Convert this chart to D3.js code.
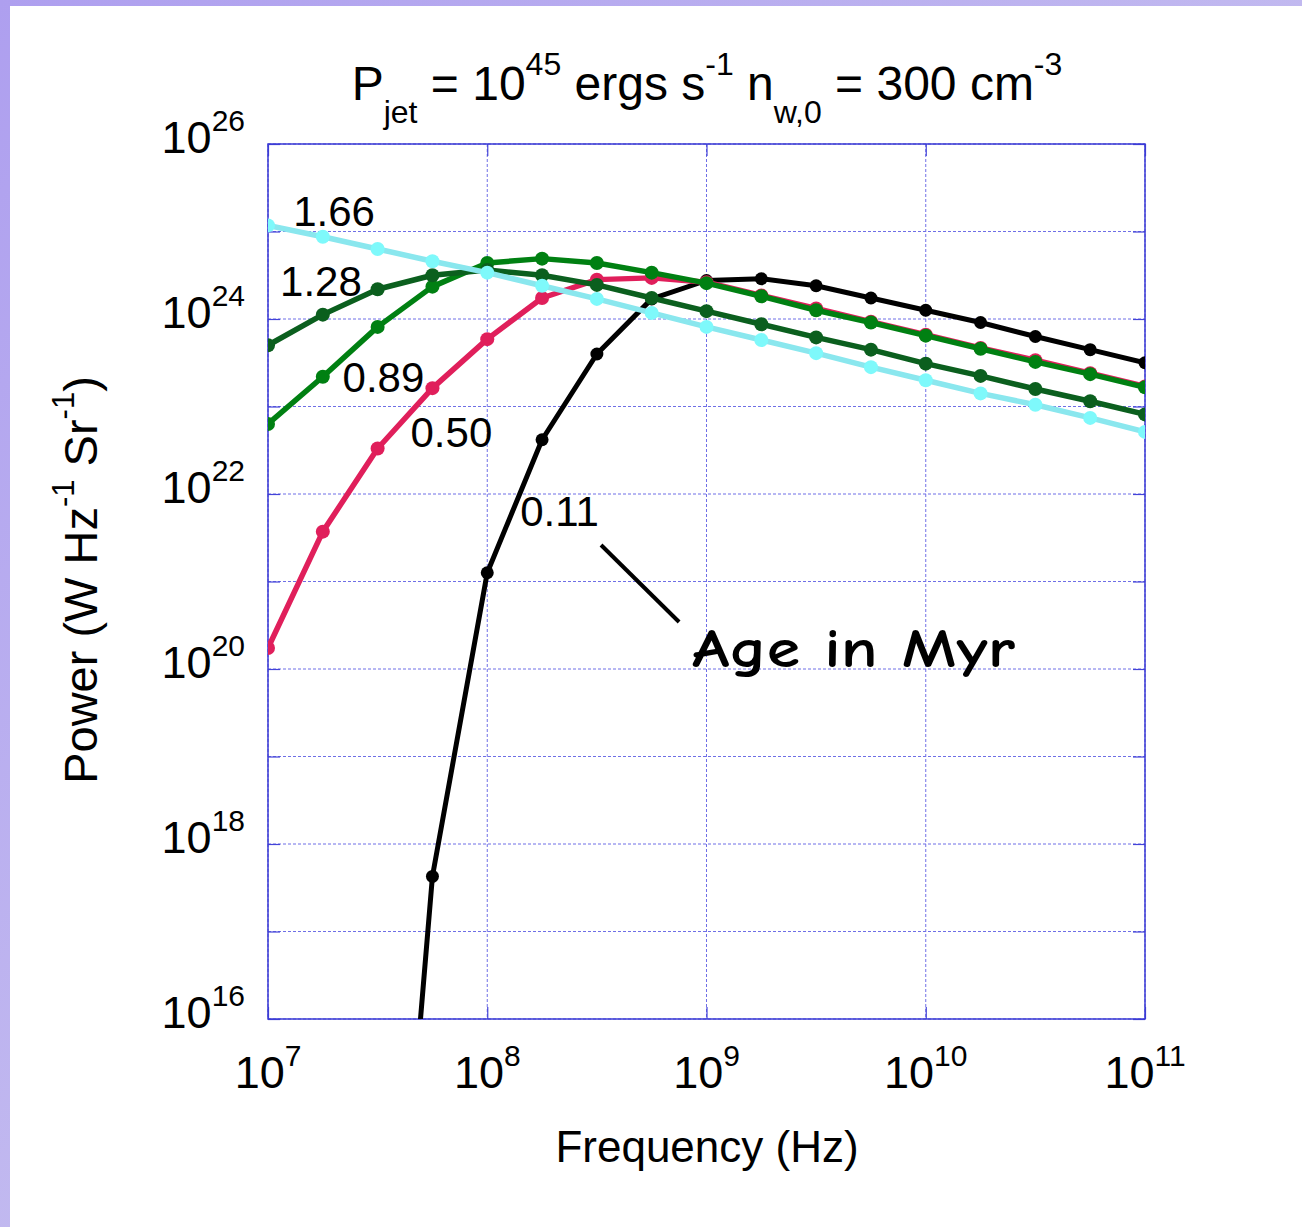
<!DOCTYPE html>
<html lang="en">
<head>
<meta charset="UTF-8">
<title>Power vs Frequency</title>
<script src="https://d3js.org/d3.v7.min.js"></script>
<style>
    html, body { margin: 0; padding: 0; background: #fff; }
    svg { display: block; font-family: "Liberation Sans", Arial, sans-serif; }
</style>
</head>
<body>
<div id="chart"></div>
<script>
// frequency in log10(Hz), quarter-decade steps
const freqLog = [7.00, 7.25, 7.50, 7.75, 8.00, 8.25, 8.50, 8.75, 9.00, 9.25, 9.50, 9.75, 10.00, 10.25, 10.50, 10.75, 11.00];

// power in log10(W Hz^-1 Sr^-1)
const age011 = [null, null, 10.15, 17.63, 21.10, 22.62, 23.60, 24.23, 24.44, 24.46, 24.38, 24.24, 24.10, 23.96, 23.80, 23.65, 23.50];
const age050 = [20.24, 21.57, 22.52, 23.21, 23.77, 24.24, 24.45, 24.47, 24.42, 24.27, 24.12, 23.97, 23.82, 23.67, 23.53, 23.38, 23.23];
const age089 = [22.80, 23.34, 23.91, 24.37, 24.64, 24.69, 24.64, 24.53, 24.41, 24.26, 24.10, 23.96, 23.81, 23.66, 23.51, 23.37, 23.22];
const age128 = [23.70, 24.05, 24.34, 24.50, 24.56, 24.50, 24.39, 24.24, 24.09, 23.94, 23.79, 23.65, 23.49, 23.35, 23.20, 23.06, 22.91];
const age166 = [25.07, 24.94, 24.80, 24.66, 24.53, 24.38, 24.23, 24.07, 23.91, 23.76, 23.61, 23.45, 23.30, 23.15, 23.02, 22.87, 22.71];

const ageNames = ["0.11", "0.50", "0.89", "1.28", "1.66"];

// tick exponents
const xTickExp = [7, 8, 9, 10, 11];
const yTickExp = [16, 18, 20, 22, 24, 26];
const yGridExp = [16, 17, 18, 19, 20, 21, 22, 23, 24, 25, 26];

// label anchors in data coords (log10 f, log10 P)
const labelFreq = [8.15, 7.65, 7.34, 7.055, 7.115];
const labelPow = [21.63, 22.54, 23.17, 24.26, 25.06];

const W = 1302, H = 1227;
const margin = { top: 144, right: 157, bottom: 208, left: 268 };
const width = W - margin.left - margin.right;   // 877
const height = H - margin.top - margin.bottom;  // 875

const svg = d3.select("#chart").append("svg").attr("width", W).attr("height", H);

// slide background
const defs = svg.append("defs");
const grad = defs.append("linearGradient").attr("id", "bg").attr("x1", 0).attr("y1", 0).attr("x2", 1).attr("y2", 1);
grad.append("stop").attr("offset", "0%").attr("stop-color", "#ae9fef");
grad.append("stop").attr("offset", "100%").attr("stop-color", "#d4d2f0");
svg.append("rect").attr("width", W).attr("height", H).attr("fill", "url(#bg)");
svg.append("rect").attr("x", 10).attr("y", 6).attr("width", W - 10).attr("height", H - 6).attr("fill", "#fff");

defs.append("clipPath").attr("id", "clip")
    .append("rect").attr("width", width).attr("height", height);

const g = svg.append("g").attr("transform", `translate(${margin.left},${margin.top})`);

const x = d3.scaleLog().domain([1e7, 1e11]).range([0, width]);
const y = d3.scaleLog().domain([1e16, 1e26]).range([height, 0]);

// grid
g.append("g").selectAll("line").data(yGridExp).join("line")
    .attr("x1", 0).attr("x2", width)
    .attr("y1", d => y(Math.pow(10, d))).attr("y2", d => y(Math.pow(10, d)))
    .attr("stroke", "#6f6fe6").attr("stroke-width", 1).attr("stroke-dasharray", "3,2");
g.append("g").selectAll("line").data(xTickExp).join("line")
    .attr("y1", 0).attr("y2", height)
    .attr("x1", d => x(Math.pow(10, d))).attr("x2", d => x(Math.pow(10, d)))
    .attr("stroke", "#6f6fe6").attr("stroke-width", 1).attr("stroke-dasharray", "3,2");

// axes with inner ticks
g.append("g").attr("transform", `translate(0,${height})`)
    .call(d3.axisBottom(x).tickValues(xTickExp.map(e => Math.pow(10, e))).tickSize(-12).tickFormat(""));
g.append("g")
    .call(d3.axisLeft(y).tickValues(yGridExp.map(e => Math.pow(10, e))).tickSize(-12).tickFormat(""));
g.append("g").attr("transform", `translate(${width},0)`)
    .call(d3.axisRight(y).tickValues(yGridExp.map(e => Math.pow(10, e))).tickSize(-12).tickFormat(""));
g.append("g")
    .call(d3.axisTop(x).tickValues(xTickExp.map(e => Math.pow(10, e))).tickSize(-12).tickFormat(""));
g.selectAll(".domain").remove();
g.selectAll(".tick line").attr("stroke", "#4444d8").attr("stroke-width", 1.2);

// x tick labels
g.append("g").selectAll("text").data(xTickExp).join("text")
    .attr("x", d => x(Math.pow(10, d)))
    .attr("y", height + 69)
    .attr("text-anchor", "middle")
    .each(function(d) {
        const t = d3.select(this);
        t.append("tspan").attr("font-size", 45).text("10");
        t.append("tspan").attr("font-size", 30).attr("dy", -22).text(d);
    });

// y tick labels
g.append("g").selectAll("text").data(yTickExp).join("text")
    .attr("x", -23)
    .attr("y", d => y(Math.pow(10, d)) + 9)
    .attr("text-anchor", "end")
    .each(function(d) {
        const t = d3.select(this);
        t.append("tspan").attr("font-size", 45).text("10");
        t.append("tspan").attr("font-size", 30).attr("dy", -22).text(d);
    });

// frame
g.append("rect").attr("width", width).attr("height", height)
    .attr("fill", "none").attr("stroke", "#3a3ad4").attr("stroke-width", 1.5);

// series (drawn oldest on top)
const series = [
    { name: ageNames[0], vals: age011, line: "#000000", dot: "#000000", lw: 5, r: 6.5 },
    { name: ageNames[1], vals: age050, line: "#e01f5b", dot: "#e01f5b", lw: 5.5, r: 7 },
    { name: ageNames[2], vals: age089, line: "#008012", dot: "#008012", lw: 5.5, r: 7 },
    { name: ageNames[3], vals: age128, line: "#0b5f1e", dot: "#0b5f1e", lw: 5.5, r: 7 },
    { name: ageNames[4], vals: age166, line: "#8ae7ee", dot: "#7ef9fb", lw: 5.5, r: 7 }
];

const plot = g.append("g").attr("clip-path", "url(#clip)");
const line = d3.line()
    .defined(d => d.p !== null)
    .x(d => x(Math.pow(10, d.f)))
    .y(d => y(Math.pow(10, d.p)));

series.forEach(s => {
    const pts = freqLog.map((f, i) => ({ f: f, p: s.vals[i] }));
    plot.append("path").datum(pts)
        .attr("fill", "none").attr("stroke", s.line).attr("stroke-width", s.lw)
        .attr("stroke-linejoin", "round").attr("d", line);
    plot.append("g").selectAll("circle").data(pts.filter(d => d.p !== null)).join("circle")
        .attr("cx", d => x(Math.pow(10, d.f)))
        .attr("cy", d => y(Math.pow(10, d.p)))
        .attr("r", s.r).attr("fill", s.dot);
});

// age labels
g.append("g").selectAll("text").data(ageNames).join("text")
    .attr("x", (d, i) => x(Math.pow(10, labelFreq[i])))
    .attr("y", (d, i) => y(Math.pow(10, labelPow[i])))
    .attr("font-size", 42).attr("fill", "#000")
    .text(d => d);

// pointer + note
g.append("line")
    .attr("x1", x(Math.pow(10, 8.519))).attr("y1", y(Math.pow(10, 21.417)))
    .attr("x2", x(Math.pow(10, 8.875))).attr("y2", y(Math.pow(10, 20.537)))
    .attr("stroke", "#000").attr("stroke-width", 4);
g.append("text")
    .attr("x", x(Math.pow(10, 8.934))).attr("y", y(Math.pow(10, 20.02)))
    .attr("font-family", "'Comic Sans MS', 'Comic Neue', 'DejaVu Sans', sans-serif")
    .attr("font-weight", "bold").attr("font-size", 54)
    .attr("textLength", 323).attr("lengthAdjust", "spacingAndGlyphs")
    .text("Age in Myr");

// title
const title = svg.append("text").attr("x", 707).attr("y", 100).attr("text-anchor", "middle").attr("font-size", 48);
title.append("tspan").text("P");
title.append("tspan").attr("font-size", 32).attr("dy", 23).text("jet");
title.append("tspan").attr("dy", -23).text(" = 10");
title.append("tspan").attr("font-size", 32).attr("dy", -25).text("45");
title.append("tspan").attr("dy", 25).text(" ergs s");
title.append("tspan").attr("font-size", 32).attr("dy", -25).text("-1");
title.append("tspan").attr("dy", 25).text(" n");
title.append("tspan").attr("font-size", 32).attr("dy", 23).text("w,0");
title.append("tspan").attr("dy", -23).text(" = 300 cm");
title.append("tspan").attr("font-size", 32).attr("dy", -25).text("-3");

// axis titles
svg.append("text").attr("x", 707).attr("y", 1162).attr("text-anchor", "middle")
    .attr("font-size", 44).text("Frequency (Hz)");

const yl = svg.append("text").attr("transform", "translate(97,580) rotate(-90)")
    .attr("text-anchor", "middle").attr("font-size", 47);
yl.append("tspan").text("Power (W Hz");
yl.append("tspan").attr("font-size", 31).attr("dy", -23).text("-1");
yl.append("tspan").attr("dy", 23).text(" Sr");
yl.append("tspan").attr("font-size", 31).attr("dy", -23).text("-1");
yl.append("tspan").attr("dy", 23).text(")");
</script>
</body>
</html>
